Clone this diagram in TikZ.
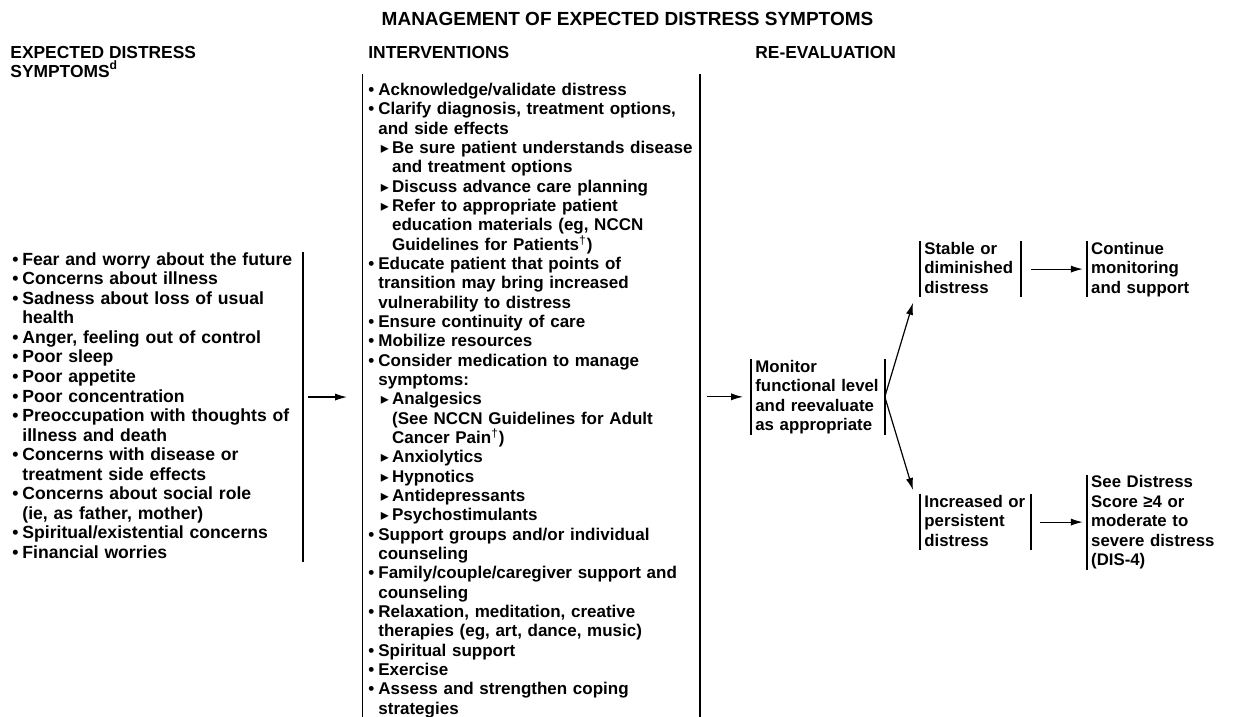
\documentclass[tikz,border=0pt]{standalone}
\usepackage{fontspec}
\setmainfont{Liberation Sans}
\newfontfamily\symfont{DejaVu Sans}
\usetikzlibrary{positioning,arrows.meta}

\newcommand\bul{\makebox[5pt][l]{\textbullet}}
\newcommand\bulc{\hspace*{5pt}}
\newcommand\subp{\hspace*{6.2pt}\makebox[5.65pt][l]{\symfont\fontsize{8}{8}\selectfont ▸}}
\newcommand\subc{\hspace*{11.85pt}}
\newcommand\barstrut{\rule[-1.75pt]{0pt}{8.25pt}}
\newcommand\dg{\textsuperscript{\mdseries\textdagger}}

\begin{document}
\begin{tikzpicture}[x=0.5pt,y=-0.5pt,
  txt/.style={inner sep=0pt,align=left,anchor=north west,
    font=\bfseries\fontsize{8.5}{9.73}\selectfont,
    execute at begin node=\barstrut,execute at end node=\barstrut},
  box/.style={txt,inner xsep=2pt,font=\bfseries\fontsize{8.4}{9.73}\selectfont},
  hd/.style={inner sep=0pt,font=\bfseries\fontsize{8.7}{8}\selectfont},
  bar/.style={line width=0.75pt},
  arr/.style={line width=0.6pt,-{Latex[length=6pt,width=3.6pt]}}]
\useasboundingbox (0,0) rectangle (1255,717);

% headings
\node[hd,font=\bfseries\fontsize{9.5}{11}\selectfont,anchor=base] (title) at (627.5,26) {MANAGEMENT OF EXPECTED DISTRESS SYMPTOMS};
\node[hd,align=left,anchor=north west] (hdsym) at (10,46) {EXPECTED DISTRESS\\SYMPTOMS\textsuperscript{d}};
\node[hd,anchor=base west] (hdint) at (368,59) {INTERVENTIONS};
\node[hd,anchor=base west] (hdre) at (755,59) {RE-EVALUATION};

% expected distress symptoms
\node[txt,font=\bfseries\fontsize{8.8}{9.76}\selectfont,text width=145pt] (sympt) at (12,252) {\bul Fear and worry about the future\\
\bul Concerns about illness\\
\bul Sadness about loss of usual\\
\bulc health\\
\bul Anger, feeling out of control\\
\bul Poor sleep\\
\bul Poor appetite\\
\bul Poor concentration\\
\bul Preoccupation with thoughts of\\
\bulc illness and death\\
\bul Concerns with disease or\\
\bulc treatment side effects\\
\bul Concerns about social role\\
\bulc (ie, as father, mother)\\
\bul Spiritual/existential concerns\\
\bul Financial worries};

% interventions
\node[txt,font=\bfseries\fontsize{8.5}{9.67}\selectfont,inner xsep=2.75pt,inner ysep=4pt,text width=162.9pt] (interv) at (362.5,74) {\bul Acknowledge/validate distress\\
\bul Clarify diagnosis, treatment options,\\
\bulc and side effects\\
\subp Be sure patient understands disease\\
\subc and treatment options\\
\subp Discuss advance care planning\\
\subp Refer to appropriate patient\\
\subc education materials (eg, NCCN\\
\subc Guidelines for Patients\dg)\\
\bul Educate patient that points of\\
\bulc transition may bring increased\\
\bulc vulnerability to distress\\
\bul Ensure continuity of care\\
\bul Mobilize resources\\
\bul Consider medication to manage\\
\bulc symptoms:\\
\subp Analgesics\\
\subc (See NCCN Guidelines for Adult\\
\subc Cancer Pain\dg)\\
\subp Anxiolytics\\
\subp Hypnotics\\
\subp Antidepressants\\
\subp Psychostimulants\\
\bul Support groups and/or individual\\
\bulc counseling\\
\bul Family/couple/caregiver support and\\
\bulc counseling\\
\bul Relaxation, meditation, creative\\
\bulc therapies (eg, art, dance, music)\\
\bul Spiritual support\\
\bul Exercise\\
\bul Assess and strengthen coping\\
\bulc strategies};

% re-evaluation
\node[box,text width=62.5pt] (monitor) at (751,359) {Monitor\\functional level\\and reevaluate\\as appropriate};
\node[box,text width=46pt] (stable) at (920,241) {Stable or\\diminished\\distress};
\node[box,text width=80pt,right=33pt of stable] (cont) {Continue\\monitoring\\and support};
\node[box,text width=51pt] (incr) at (920,494) {Increased or\\persistent\\distress};
\node[box,text width=80pt,right=28pt of incr] (seedis) {See Distress\\Score ≥4 or\\moderate to\\severe distress\\(DIS-4)};

% side bars
\draw[bar] (sympt.north east) -- (sympt.south east);
\draw[bar] (interv.north west) -- (interv.south west);
\draw[bar] (interv.north east) -- (interv.south east);
\foreach \n in {monitor,stable,cont,incr,seedis}
  \draw[bar] (\n.north west) -- (\n.south west);
\foreach \n in {monitor,stable,incr}
  \draw[bar] (\n.north east) -- (\n.south east);

% connectors
\draw[arr,shorten <=2.5pt,shorten >=7.75pt] ([yshift=5pt]sympt.east) -- ([yshift=5pt]sympt.east -| interv.west);
\draw[arr,shorten <=3.5pt,shorten >=4pt] (interv.east |- monitor.west) -- (monitor.west);
\draw[arr] (monitor.east) -- ([xshift=-3.5pt,yshift=-2.8pt]stable.south west);
\draw[arr] (monitor.east) -- ([xshift=-3.5pt,yshift=2pt]incr.north west);
\draw[arr,shorten <=5pt,shorten >=2pt] (stable) -- (cont);
\draw[arr,shorten <=4.5pt,shorten >=2pt] (incr.east) -- (incr.east -| seedis.west);
\end{tikzpicture}
\end{document}
